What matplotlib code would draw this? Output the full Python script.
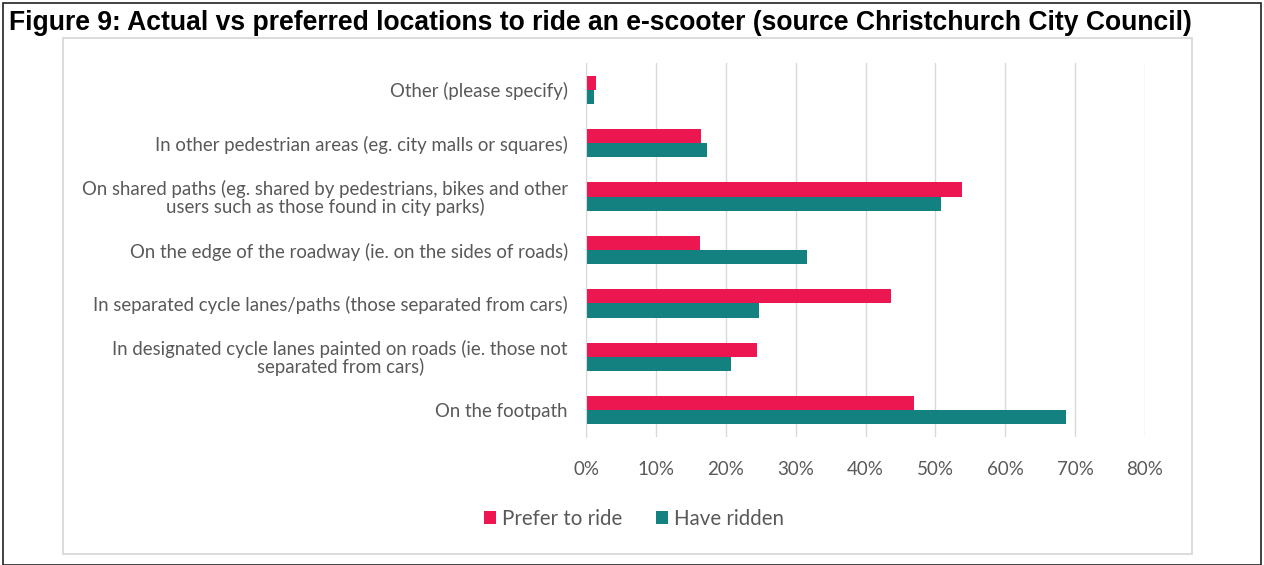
import matplotlib.pyplot as plt
from matplotlib.patches import Rectangle
from matplotlib.ticker import PercentFormatter

# Data
categories = [
    'Other (please specify)',
    'In other pedestrian areas (eg. city malls or squares)',
    'On shared paths (eg. shared by pedestrians, bikes and other\nusers such as those found in city parks)',
    'On the edge of the roadway (ie. on the sides of roads)',
    'In separated cycle lanes/paths (those separated from cars)',
    'In designated cycle lanes painted on roads (ie. those not\nseparated from cars)',
    'On the footpath',
]
prefer = [1.4, 16.5, 53.8, 16.3, 43.7, 24.5, 47.0]
ridden = [1.2, 17.3, 50.8, 31.6, 24.8, 20.8, 68.7]
series_names = ['Prefer to ride', 'Have ridden']
colors = ['#EC1650', '#128180']

text_col = '#595959'
font = 'Lato'

fig = plt.figure(figsize=(12.64, 5.65), dpi=100)
W, H = 1264, 565

# outer black border and inner gray chart frame
fig.patches.append(Rectangle((3 / W, 0), 1258 / W, 1 - 3 / H, transform=fig.transFigure,
                             fill=False, edgecolor='#222222', linewidth=1.2))
fig.patches.append(Rectangle((63 / W, 1 - 554 / H), 1129 / W, 516 / H, transform=fig.transFigure,
                             fill=False, edgecolor='#d9d9d9', linewidth=1.3))

fig.text(9 / W, 1 - 23 / H,
         'Figure 9: Actual vs preferred locations to ride an e-scooter (source Christchurch City Council)',
         fontfamily='Liberation Sans', fontweight='bold', fontsize=19.1, va='center', ha='left')

ax = fig.add_axes([586 / W, 1 - 437 / H, 559 / W, 374 / H])

n = len(categories)
pos = list(range(n))
h = 0.265
ax.barh([p - h / 2 for p in pos], prefer, height=h, color=colors[0], label=series_names[0])
ax.barh([p + h / 2 for p in pos], ridden, height=h, color=colors[1], label=series_names[1])

ax.set_ylim(n - 0.5, -0.5)
ax.set_xlim(0, 80)
ax.set_xticks(range(0, 81, 10))
ax.xaxis.set_major_formatter(PercentFormatter(decimals=0))
ax.set_yticks(pos)
ax.set_yticklabels(categories, multialignment='center', linespacing=1.0)

ax.grid(axis='x', color='#d9d9d9', linewidth=1)
ax.set_axisbelow(True)
for s in ['top', 'right', 'bottom']:
    ax.spines[s].set_visible(False)
ax.spines['left'].set_color('#d9d9d9')
ax.tick_params(axis='y', length=0, pad=13, labelsize=13.4, labelcolor=text_col)
ax.tick_params(axis='x', length=0, pad=17, labelsize=13.5, labelcolor=text_col)
for lab in ax.get_yticklabels() + ax.get_xticklabels():
    lab.set_fontfamily(font)

leg = fig.legend(loc='center', bbox_to_anchor=(634 / W, 1 - 519 / H), ncol=2, frameon=False,
                 handlelength=0.62, handleheight=0.62, handletextpad=0.3, columnspacing=1.6,
                 prop={'family': font, 'size': 14.8})
for t in leg.get_texts():
    t.set_color(text_col)

fig.savefig('out.png', dpi=100)
